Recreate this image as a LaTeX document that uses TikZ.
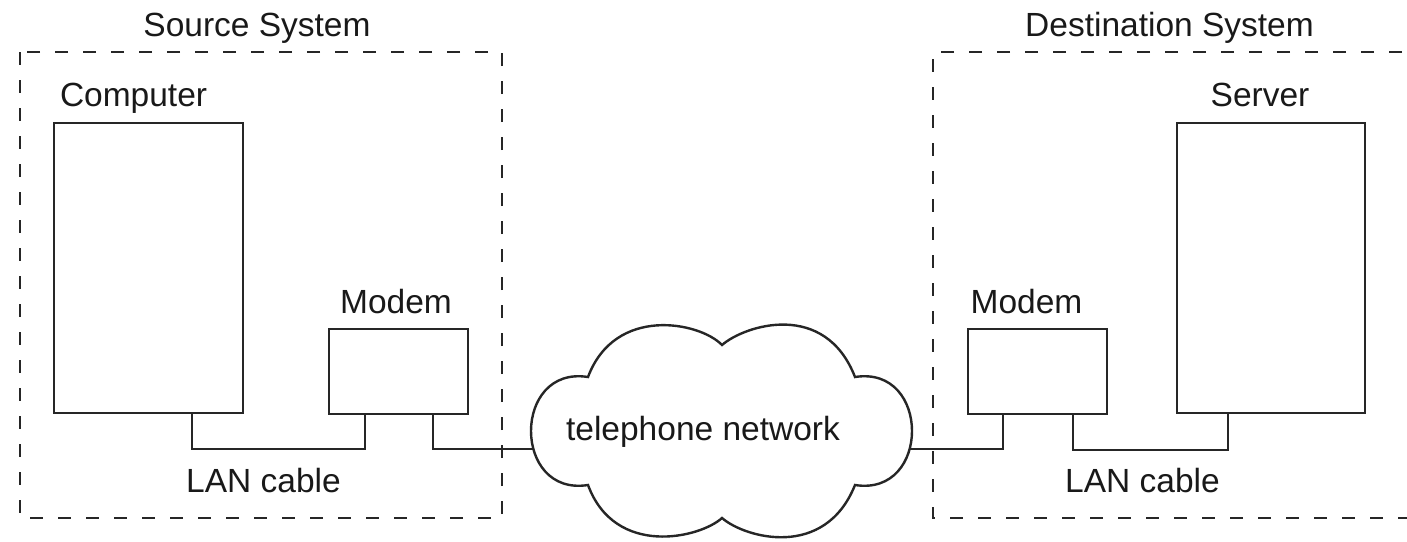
\documentclass[tikz,border=0pt]{standalone}
\usepackage{fontspec}
\setmainfont{Liberation Sans}
\begin{document}
\begin{tikzpicture}[x=1pt,y=-1pt,
  solidline/.style={line width=2.4pt, draw=black!85},
  dashbox/.style={line width=2.8pt, draw=black!85, dash pattern=on 13pt off 15pt},
  unitbox/.style={solidline, rectangle, inner sep=0pt, outer sep=0pt, fill=white},
  lbl/.style={inner sep=0pt, outer sep=0pt, font=\fontsize{33.5}{40}\selectfont, text=black!90}
]
\useasboundingbox (0,0) rectangle (1407,541);

% dashed system boundaries
\draw[dashbox] (20,52) rectangle (502,518);
\draw[dashbox] (1430,52) -- (933,52) -- (933,518) -- (1430,518);

% units
\node[unitbox, minimum width=189pt, minimum height=290pt] (computer) at (148.5,268) {};
\node[unitbox, minimum width=139pt, minimum height=85pt] (smodem) at (398.5,371.5) {};
\node[unitbox, minimum width=139pt, minimum height=85pt] (dmodem) at (1037.5,371.5) {};
\node[unitbox, minimum width=188pt, minimum height=290pt] (server) at (1271,268) {};

% cloud attachment points
\coordinate (cloudW) at (535,449);
\coordinate (cloudE) at (910,449);

% connectors
\draw[solidline] ([xshift=43.5pt]computer.south) -- ++(0,36) -| ([xshift=-33.5pt]smodem.south);
\draw[solidline] ([xshift=34.5pt]smodem.south) |- (cloudW);
\draw[solidline] (cloudE) -| ([xshift=-34.5pt]dmodem.south);
\draw[solidline] ([xshift=35.5pt]dmodem.south) -- ++(0,36) -| ([xshift=-43pt]server.south);

% cloud
\draw[solidline, fill=white]
  (722,345) .. controls (745,325) and (825,300) .. (855,377)
  .. controls (931,365) and (931,497) .. (855,485)
  .. controls (825,560) and (745,538) .. (722,518)
  .. controls (700,538) and (615,558) .. (588,485)
  .. controls (512,497) and (512,365) .. (588,377)
  .. controls (615,305) and (700,322) .. cycle;

% labels
\node[lbl, anchor=base] (srclbl) at (257,36) {Source System};
\node[lbl, anchor=base] (dstlbl) at (1169.5,36) {Destination System};
\node[lbl, anchor=base west] (complbl) at (60,106) {Computer};
\node[lbl, anchor=base] (servlbl) at (1260,106) {Server};
\node[lbl, anchor=base] (smodlbl) at (396,313) {Modem};
\node[lbl, anchor=base] (dmodlbl) at (1026.5,313) {Modem};
\node[lbl, anchor=base] (slanlbl) at (263.5,492) {LAN cable};
\node[lbl, anchor=base] (dlanlbl) at (1142.5,492) {LAN cable};
\node[lbl, anchor=base] (netlbl) at (703,440) {telephone network};
\end{tikzpicture}
\end{document}
